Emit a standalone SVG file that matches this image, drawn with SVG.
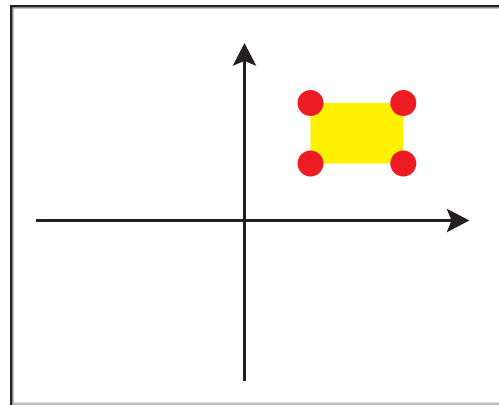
<svg xmlns="http://www.w3.org/2000/svg" width="499" height="405" viewBox="0 0 499 405">
<style>
.axis{stroke:#231f20;stroke-width:3;fill:none}
.head{fill:#231f20}
.dot{fill:#ed1c24}
</style>
<rect x="0" y="0" width="499" height="405" fill="#ffffff"/>
<g id="frame">
<rect x="10" y="5" width="489" height="2.5" fill="#231f20"/>
<rect x="10" y="5" width="2.5" height="400" fill="#231f20"/>
<rect x="12.5" y="7.5" width="486.5" height="1" fill="#8a8a8a"/>
<rect x="12.5" y="7.5" width="1" height="397.5" fill="#8a8a8a"/>
<rect x="12.5" y="402.5" width="486.5" height="2.5" fill="#bdbdbd"/>
</g>
<g id="connectors">
<line class="axis" x1="244.5" y1="381" x2="244.5" y2="60"/>
<path class="head" d="M244.5 43 L256.5 66 L244.5 61 L232.5 66 Z"/>
<line class="axis" x1="36" y1="220.5" x2="452" y2="220.5"/>
<path class="head" d="M469.5 220.5 L446.5 232.5 L451.5 220.5 L446.5 208.5 Z"/>
</g>
<g id="rectangle">
<rect x="310.5" y="103" width="93" height="60.5" fill="#fff200"/>
</g>
<g id="corners">
<circle class="dot" cx="310.5" cy="103" r="13"/>
<circle class="dot" cx="403.3" cy="103" r="13"/>
<circle class="dot" cx="310.5" cy="163.5" r="13"/>
<circle class="dot" cx="403.3" cy="163.5" r="13"/>
</g>
</svg>
